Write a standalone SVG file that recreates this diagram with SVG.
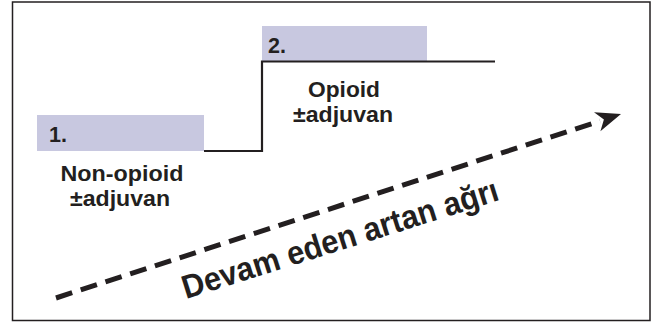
<svg xmlns="http://www.w3.org/2000/svg" width="653" height="324" viewBox="0 0 653 324">
<style>
.box{fill:#c8c8e0;}
.t{font-family:"Liberation Sans",Arial,sans-serif;font-weight:700;fill:#231f20;}
.lbl{font-size:21.5px;}
.step{fill:none;stroke:#231f20;stroke-width:2.2;}
.dash{fill:none;stroke:#231f20;stroke-width:5;stroke-dasharray:17 9;}
</style>
<rect x="0" y="0" width="653" height="324" fill="#ffffff"/>
<rect x="12.5" y="2" width="637.5" height="318.5" fill="none" stroke="#231f20" stroke-width="1.5"/>
<g id="step1">
<rect class="box" x="37" y="115" width="167" height="36"/>
<text class="t lbl" x="49" y="142">1.</text>
<text class="t lbl" x="122" y="181" text-anchor="middle" textLength="123" lengthAdjust="spacingAndGlyphs">Non-opioid</text>
<text class="t lbl" x="120" y="206" text-anchor="middle" textLength="100" lengthAdjust="spacingAndGlyphs">±adjuvan</text>
</g>
<g id="step2">
<rect class="box" x="262" y="26" width="165" height="35"/>
<text class="t lbl" x="268" y="53">2.</text>
<text class="t lbl" x="344" y="97" text-anchor="middle" textLength="72" lengthAdjust="spacingAndGlyphs">Opioid</text>
<text class="t lbl" x="343" y="122" text-anchor="middle" textLength="100" lengthAdjust="spacingAndGlyphs">±adjuvan</text>
</g>
<g id="connectors">
<polyline class="step" points="204,151 262,151 262,61.5 495,61.5"/>
<line class="dash" x1="56" y1="298" x2="600" y2="121"/>
<polygon points="621,114 594,112.3 603.9,119.6 600.4,131.3" fill="#231f20"/>
</g>
<g id="label">
<text class="t" font-size="33" transform="translate(186,299) rotate(-17.5)" textLength="330" lengthAdjust="spacingAndGlyphs">Devam eden artan ağrı</text>
</g>
</svg>
